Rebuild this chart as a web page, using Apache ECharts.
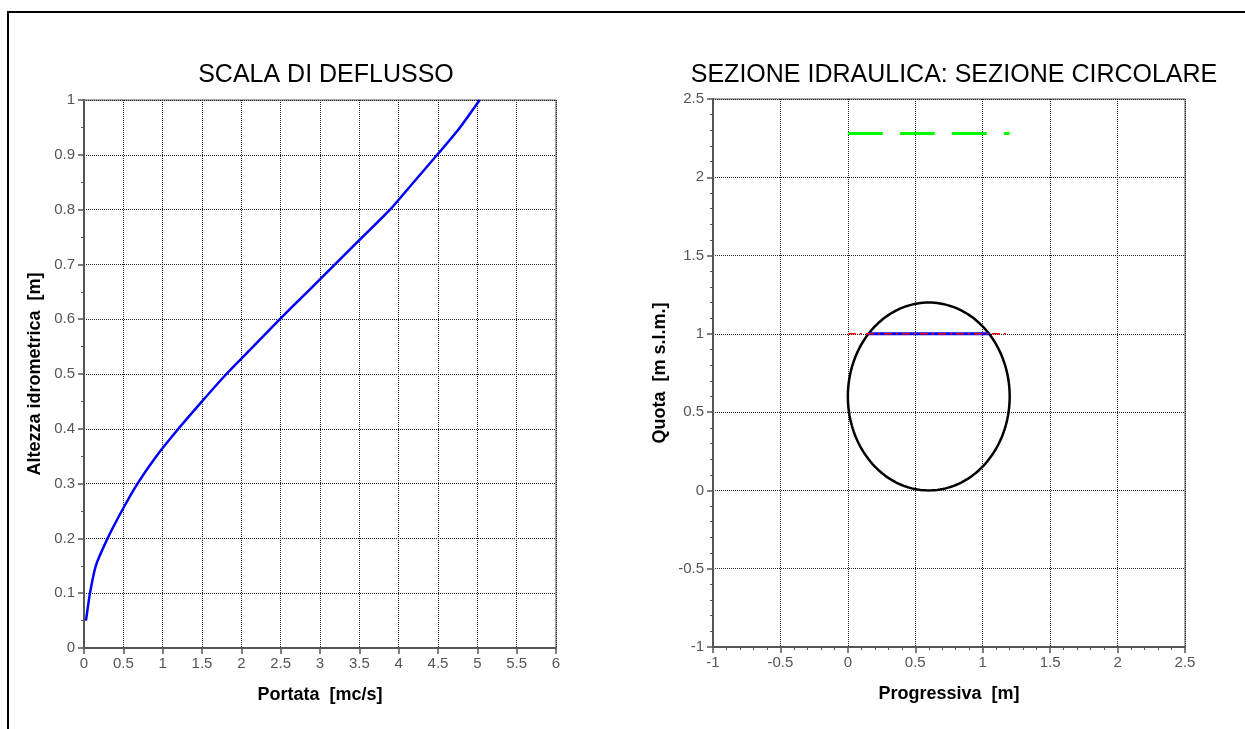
<!DOCTYPE html>
<html>
<head>
<meta charset="utf-8">
<script src="https://cdn.jsdelivr.net/npm/echarts@6/dist/echarts.min.js"></script>
<style>
html,body{margin:0;padding:0;background:#fff;}
#main{width:1245px;height:729px;}
</style>
</head>
<body>
<div id="main"></div>
<script>
// ---- Data: rating curve (scala di deflusso) ----
const portata = [0.025, 0.076, 0.15, 0.3, 0.48, 0.68, 0.92, 1.2, 1.5, 1.81, 2.15, 2.49, 2.84, 3.19, 3.54, 3.89, 4.19, 4.49, 4.78, 5.03];
const altezza = [0.05, 0.1, 0.15, 0.2, 0.25, 0.3, 0.35, 0.4, 0.45, 0.5, 0.55, 0.6, 0.65, 0.7, 0.75, 0.8, 0.85, 0.9, 0.95, 1.0];

// ---- Data: hydraulic section ----
const sezioneCircolare = [[0.6, 0.6, 0.6]]; // centre x, centre y, radius
const peloLiberoX = [0.153, 1.047];
const peloLiberoY = [1.0, 1.0];
const livelloX = [0, 1.2];
const livelloY = [1.0, 1.0];
const energiaX = [0, 1.2];
const energiaY = [2.28, 2.28];

const leftTicks = ['0','0.1','0.2','0.3','0.4','0.5','0.6','0.7','0.8','0.9','1'];

const FONT = 'Liberation Sans, Arial, sans-serif';
const chart = echarts.init(document.getElementById('main'), null, {renderer: 'canvas'});

const gridLine = {show: true, lineStyle: {type: [1, 1], color: '#222', width: 1}};
const axisLine = {show: true, onZero: false, lineStyle: {color: '#555', width: 2}};
const labelStyle = {color: '#555', fontSize: 15, fontFamily: FONT};
const nameStyle = {color: '#000', fontSize: 18, fontWeight: 'bold', fontFamily: FONT};

function pairs(xs, ys) { return xs.map((x, i) => [x, ys[i]]); }

const option = {
  animation: false,
  backgroundColor: '#fff',
  graphic: [{
    type: 'rect', shape: {x: 8, y: 12, width: 1260, height: 740},
    style: {fill: null, stroke: '#000', lineWidth: 2}, silent: true
  }],
  title: [
    {text: 'SCALA DI DEFLUSSO', left: 321, top: 58, textAlign: 'center',
     textStyle: {fontSize: 25, fontWeight: 'normal', color: '#000', fontFamily: FONT}},
    {text: 'SEZIONE IDRAULICA: SEZIONE CIRCOLARE', left: 949, top: 58, textAlign: 'center',
     textStyle: {fontSize: 25, fontWeight: 'normal', color: '#000', fontFamily: FONT}}
  ],
  grid: [
    {left: 84, top: 100, width: 472, height: 548, show: true, borderColor: '#555', borderWidth: 1, containLabel: false},
    {left: 713, top: 99, width: 472, height: 548, show: true, borderColor: '#555', borderWidth: 1, containLabel: false}
  ],
  xAxis: [
    {gridIndex: 0, type: 'value', min: 0, max: 6, interval: 0.5,
     name: 'Portata  [mc/s]', nameLocation: 'middle', nameGap: 38, nameTextStyle: nameStyle,
     axisLine: axisLine, axisTick: {show: true, length: 6, lineStyle: {color: '#555', width: 1.5}},
     axisLabel: Object.assign({margin: 8}, labelStyle), splitLine: gridLine},
    {gridIndex: 1, type: 'value', min: -1, max: 2.5, interval: 0.5,
     name: 'Progressiva  [m]', nameLocation: 'middle', nameGap: 38, nameTextStyle: nameStyle,
     axisLine: axisLine, axisTick: {show: true, length: 6, lineStyle: {color: '#555', width: 1.5}},
     minorTick: {show: true, splitNumber: 5, length: 3, lineStyle: {color: '#555'}},
     axisLabel: Object.assign({margin: 8}, labelStyle), splitLine: gridLine}
  ],
  yAxis: [
    {gridIndex: 0, type: 'value', min: 0, max: 1, interval: 0.1,
     name: 'Altezza idrometrica  [m]', nameLocation: 'middle', nameGap: 40, nameTextStyle: nameStyle,
     axisLine: axisLine, axisTick: {show: true, length: 6, lineStyle: {color: '#555', width: 1.5}},
     minorTick: {show: true, splitNumber: 2, length: 3, lineStyle: {color: '#555'}},
     axisLabel: Object.assign({margin: 9, formatter: (v) => leftTicks[Math.round(v * 10)] ?? String(v)}, labelStyle),
     splitLine: gridLine},
    {gridIndex: 1, type: 'value', min: -1, max: 2.5, interval: 0.5,
     name: 'Quota  [m s.l.m.]', nameLocation: 'middle', nameGap: 44, nameTextStyle: nameStyle,
     axisLine: axisLine, axisTick: {show: true, length: 6, lineStyle: {color: '#555', width: 1.5}},
     minorTick: {show: true, splitNumber: 5, length: 3, lineStyle: {color: '#555'}},
     axisLabel: Object.assign({margin: 9}, labelStyle), splitLine: gridLine}
  ],
  series: [
    {type: 'line', xAxisIndex: 0, yAxisIndex: 0, data: pairs(portata, altezza),
     smooth: 0.2, showSymbol: false, lineStyle: {color: '#0000ff', width: 2.5}, z: 5},
    {type: 'custom', xAxisIndex: 1, yAxisIndex: 1, data: sezioneCircolare, z: 4,
     renderItem: function (params, api) {
       const c = api.coord([api.value(0), api.value(1)]);
       const s = api.size([api.value(2), api.value(2)]);
       const pts = [];
       for (let i = 0; i <= 180; i++) {
         const a = i / 180 * Math.PI * 2;
         pts.push([c[0] + s[0] * Math.cos(a), c[1] + s[1] * Math.sin(a)]);
       }
       return {type: 'polyline', shape: {points: pts},
               style: {stroke: '#000', lineWidth: 2.5, fill: null}};
     }},
    {type: 'line', xAxisIndex: 1, yAxisIndex: 1, data: pairs(peloLiberoX, peloLiberoY),
     showSymbol: false, lineStyle: {color: '#0000ff', width: 3}, z: 5},
    {type: 'line', xAxisIndex: 1, yAxisIndex: 1, data: pairs(livelloX, livelloY),
     showSymbol: false, lineStyle: {color: '#ff0000', width: 1.5, type: [8, 4, 2, 4]}, z: 6},
    {type: 'line', xAxisIndex: 1, yAxisIndex: 1, data: pairs(energiaX, energiaY),
     showSymbol: false, lineStyle: {color: '#00ff00', width: 3, type: [35, 17]}, z: 5}
  ]
};
chart.setOption(option);
</script>
</body>
</html>
